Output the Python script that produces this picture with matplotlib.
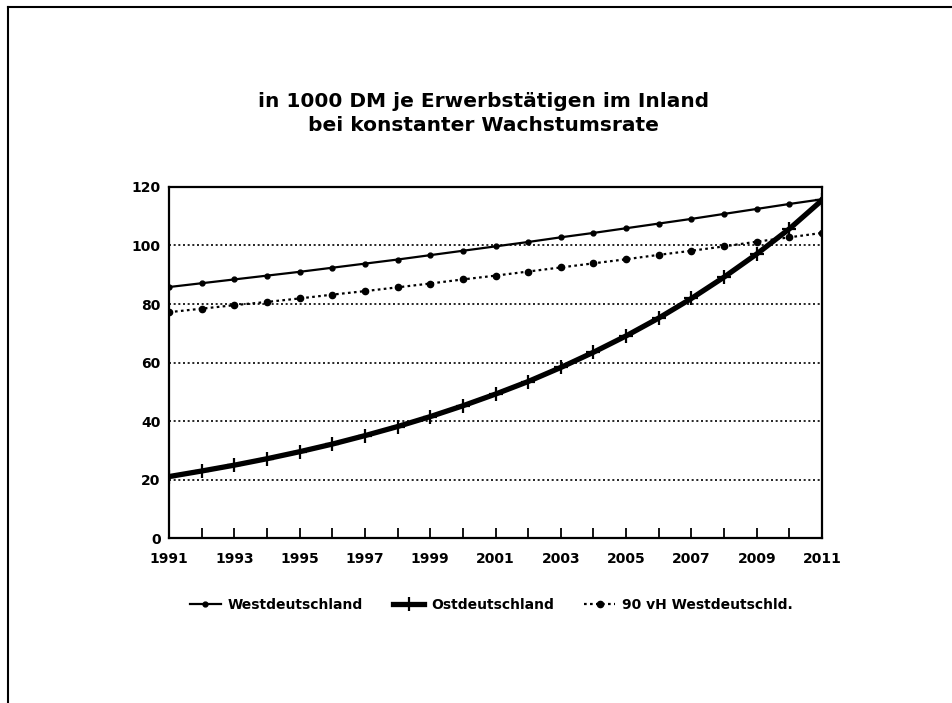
import matplotlib
matplotlib.use("Agg")
import matplotlib.pyplot as plt
from matplotlib.lines import Line2D

# Werte (1000 DM je Erwerbstaetigen)
years = list(range(1991, 2012))
west = [85.8, 87.1, 88.4, 89.7, 91.0, 92.4, 93.8, 95.2, 96.7, 98.2, 99.7,
        101.2, 102.8, 104.3, 105.9, 107.5, 109.1, 110.8, 112.5, 114.2, 115.8]
ost = [21.0, 22.9, 24.9, 27.1, 29.5, 32.1, 35.0, 38.1, 41.5, 45.2, 49.2,
       53.5, 58.3, 63.5, 69.1, 75.2, 81.9, 89.2, 97.1, 105.7, 115.5]
west90 = [77.2, 78.4, 79.6, 80.7, 81.9, 83.2, 84.4, 85.7, 87.0, 88.4, 89.7,
          91.1, 92.5, 93.9, 95.3, 96.8, 98.2, 99.7, 101.3, 102.8, 104.3]
ytick_vals = [0, 20, 40, 60, 80, 100, 120]
labels = ['Westdeutschland', 'Ostdeutschland', '90 vH Westdeutschld.']

plt.rcParams['font.family'] = 'DejaVu Sans'
plt.rcParams['font.weight'] = 'bold'

fig = plt.figure(figsize=(9.52, 7.03), dpi=100)
ax = fig.add_axes([0.1775, 0.2347, 0.686, 0.4993])

# horizontal dotted grid
for v in ytick_vals[1:-1]:
    ax.axhline(v, color='black', lw=1.2, ls=(0, (1.2, 1.6)), zorder=1)

ax.plot(years, west, color='black', lw=1.6, marker='o', ms=3.5, zorder=3)
ax.plot(years, ost, color='black', lw=3.8, marker='+', ms=10, mew=1.6, zorder=4)
ax.plot(years, west90, color='black', lw=1.6, ls=(0, (1.2, 1.5)), marker='o', ms=4.5, zorder=3)

ax.set_xlim(1991, 2011)
ax.set_ylim(0, 120)
ax.set_yticks(ytick_vals)
ax.set_yticklabels([str(v) for v in ytick_vals], fontsize=10, fontweight='bold')
ax.set_xticks(years)
ax.set_xticklabels([str(y) if (y - 1991) % 2 == 0 else '' for y in years],
                   fontsize=10, fontweight='bold')
ax.tick_params(axis='x', direction='in', length=7, width=1.3, pad=10)
ax.tick_params(axis='y', length=0, pad=6)
for s in ax.spines.values():
    s.set_linewidth(1.6)

fig.text(0.508, 0.855, 'in 1000 DM je Erwerbstätigen im Inland',
         ha='center', va='center', fontsize=14.5, fontweight='bold')
fig.text(0.508, 0.821, 'bei konstanter Wachstumsrate',
         ha='center', va='center', fontsize=14.5, fontweight='bold')

handles = [
    Line2D([], [], color='black', lw=1.6, marker='o', ms=3.5),
    Line2D([], [], color='black', lw=3.8, marker='+', ms=10, mew=1.6),
    Line2D([], [], color='black', lw=1.6, ls=(0, (1.2, 1.5)), marker='o', ms=4.5),
]
fig.legend(handles, labels, loc='center', bbox_to_anchor=(0.516, 0.139), ncol=3,
           frameon=False, prop={'size': 10, 'weight': 'bold'},
           handlelength=2.2, handletextpad=0.5, columnspacing=2.2)

# page frame (scan border)
fig.add_artist(Line2D([0.008, 0.008], [0.0, 0.99], color='black', lw=1.5, transform=fig.transFigure))
fig.add_artist(Line2D([0.008, 1.0], [0.99, 0.99], color='black', lw=1.5, transform=fig.transFigure))

fig.savefig('out.png', dpi=100)
